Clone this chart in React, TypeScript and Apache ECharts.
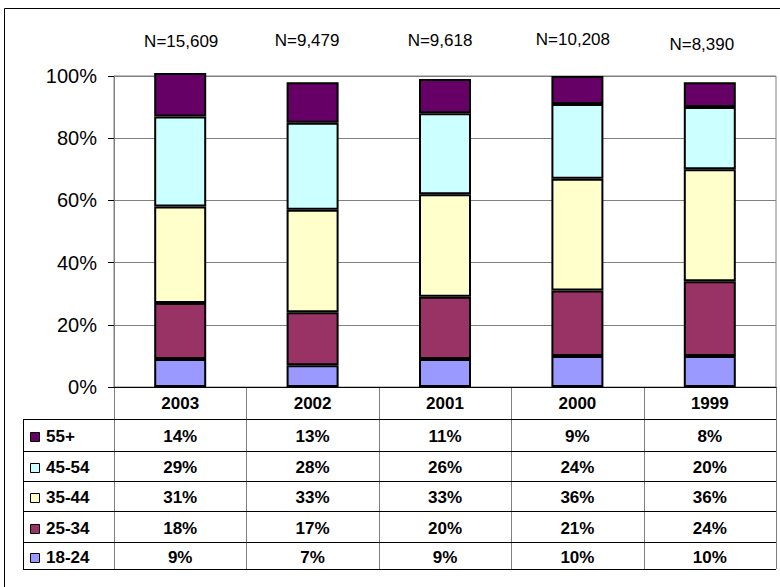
import React, { useEffect, useRef } from 'react';
import * as echarts from 'echarts';

// ---------- data ----------
const categories = ['2003', '2002', '2001', '2000', '1999'];
const ageGroups = ['18-24', '25-34', '35-44', '45-54', '55+'];
const age18to24 = [9, 7, 9, 10, 10];
const age25to34 = [18, 17, 20, 21, 24];
const age35to44 = [31, 33, 33, 36, 36];
const age45to54 = [29, 28, 26, 24, 20];
const age55plus = [14, 13, 11, 9, 8];
const sampleSizes = ['N=15,609', 'N=9,479', 'N=9,618', 'N=10,208', 'N=8,390'];

// ---------- styles / layout ----------
const seriesColors = ['#9999FF', '#993366', '#FFFFCC', '#CCFFFF', '#660066'];
const FONT = '"Liberation Sans", Arial, sans-serif';
const GRID_LEFT = 114;
const GRID_TOP = 76;
const GRID_RIGHT_X = 776;
const AXIS_Y = 387;
const TABLE_LEFT = 23;
const tableRowLines = [419, 451, 481, 511, 542, 569];
const nLabelDx = [1, -5.5, -5, -4.5, -8];
const nLabelY = [41, 40, 40.5, 39.5, 44];
const TABLE_FONT_SIZE = 17;

export default function App() {
  const ref = useRef<HTMLDivElement>(null);

  useEffect(() => {
    if (!ref.current) return;
    const chart = echarts.init(ref.current, undefined, { renderer: 'svg' });
    const seriesData = [age18to24, age25to34, age35to44, age45to54, age55plus];

    chart.setOption({
      animation: false,
      backgroundColor: '#ffffff',
      grid: {
        left: GRID_LEFT,
        top: GRID_TOP,
        right: 780 - GRID_RIGHT_X,
        bottom: 587 - AXIS_Y,
        show: true,
        borderColor: '#808080',
        borderWidth: 1,
        backgroundColor: 'transparent',
      },
      xAxis: {
        type: 'category',
        data: categories,
        axisLine: { show: true, lineStyle: { color: '#000', width: 1 } },
        axisTick: { show: false },
        axisLabel: {
          interval: 0,
          margin: 16,
          verticalAlign: 'middle',
          color: '#000',
          fontFamily: FONT,
          fontSize: TABLE_FONT_SIZE,
          fontWeight: 'bold',
        },
        splitLine: { show: false },
      },
      yAxis: {
        type: 'value',
        min: 0,
        max: 100,
        interval: 20,
        axisLine: { show: true, lineStyle: { color: '#808080', width: 1 } },
        axisTick: { show: true, length: 6, lineStyle: { color: '#000' } },
        axisLabel: {
          formatter: '{value}%',
          margin: 17,
          color: '#000',
          fontFamily: FONT,
          fontSize: 20,
        },
        splitLine: { show: true, lineStyle: { color: '#808080', width: 1 } },
      },
      series: ageGroups.map((name, i) => ({
        name,
        type: 'bar',
        stack: 'total',
        data: seriesData[i],
        barWidth: 52,
        clip: false,
        itemStyle: { color: seriesColors[i], borderColor: '#000', borderWidth: 2 },
      })),
    });

    const centers = categories.map((c) => chart.convertToPixel({ xAxisIndex: 0 }, c) as number);
    const step = centers.length > 1 ? centers[1] - centers[0] : 132.4;
    const graphics: any[] = [];

    graphics.push({
      type: 'rect',
      silent: true,
      z: 0,
      shape: { x: 4.5, y: 8.5, width: 1000, height: 1000 },
      style: { fill: 'none', stroke: '#000', lineWidth: 1 },
    });

    // N labels
    sampleSizes.forEach((t, i) => {
      graphics.push({
        type: 'text',
        x: centers[i] + nLabelDx[i],
        y: nLabelY[i],
        style: {
          text: t,
          align: 'center',
          verticalAlign: 'middle',
          fontFamily: FONT,
          fontSize: 17,
          fill: '#000',
        },
      });
    });

    // table vertical lines
    for (let i = 0; i <= categories.length; i++) {
      const x = Math.round(centers[0] - step / 2 + i * step) + 0.5;
      graphics.push({
        type: 'line',
        silent: true,
        shape: { x1: x, y1: AXIS_Y, x2: x, y2: tableRowLines[tableRowLines.length - 1] },
        style: { stroke: '#808080', lineWidth: 1 },
      });
    }
    // table horizontal lines
    tableRowLines.forEach((y) => {
      graphics.push({
        type: 'line',
        silent: true,
        shape: { x1: TABLE_LEFT, y1: y + 0.5, x2: GRID_RIGHT_X, y2: y + 0.5 },
        style: { stroke: '#000', lineWidth: 1 },
      });
    });
    graphics.push({
      type: 'line',
      silent: true,
      shape: {
        x1: TABLE_LEFT + 0.5,
        y1: tableRowLines[0],
        x2: TABLE_LEFT + 0.5,
        y2: tableRowLines[tableRowLines.length - 1],
      },
      style: { stroke: '#000', lineWidth: 1 },
    });

    // table rows: top row is the top stack segment
    const rowOrder = [4, 3, 2, 1, 0];
    rowOrder.forEach((si, r) => {
      const yc = (tableRowLines[r] + tableRowLines[r + 1]) / 2 + 1.5;
      graphics.push({
        type: 'rect',
        shape: { x: 30.5, y: Math.round(yc - 4.5) + 0.5, width: 9, height: 9 },
        style: { fill: seriesColors[si], stroke: '#000', lineWidth: 1 },
      });
      graphics.push({
        type: 'text',
        x: 46,
        y: yc,
        style: {
          text: ageGroups[si],
          align: 'left',
          verticalAlign: 'middle',
          fontFamily: FONT,
          fontSize: TABLE_FONT_SIZE,
          fontWeight: 'bold',
          fill: '#000',
        },
      });
      seriesData[si].forEach((v, c) => {
        graphics.push({
          type: 'text',
          x: centers[c],
          y: yc,
          style: {
            text: v + '%',
            align: 'center',
            verticalAlign: 'middle',
            fontFamily: FONT,
            fontSize: TABLE_FONT_SIZE,
            fontWeight: 'bold',
            fill: '#000',
          },
        });
      });
    });

    chart.setOption({ graphic: graphics });

    return () => chart.dispose();
  }, []);

  return (
    <div
      ref={ref}
      style={{ position: 'fixed', left: 0, top: 0, width: 780, height: 587 }}
    />
  );
}
